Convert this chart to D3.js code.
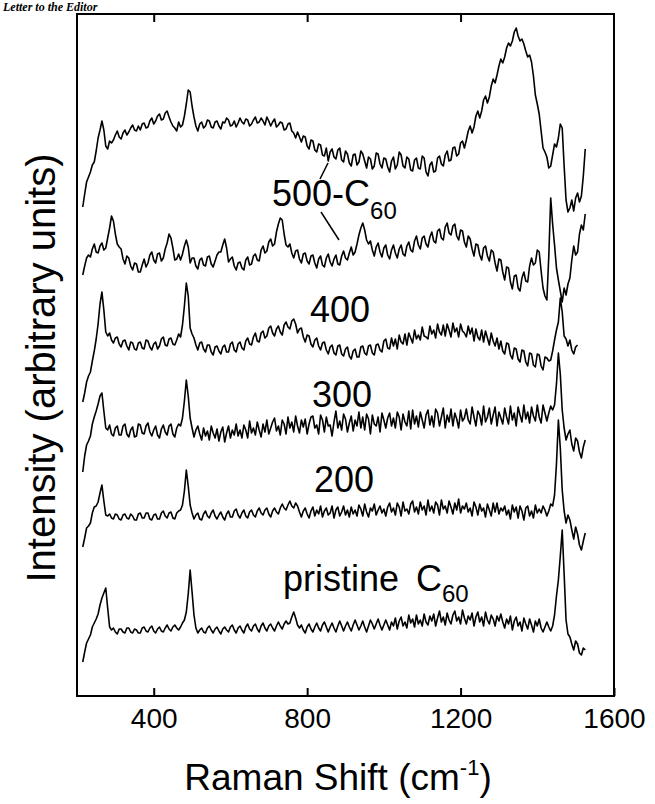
<!DOCTYPE html>
<html>
<head>
<meta charset="utf-8">
<script src="https://cdn.jsdelivr.net/npm/d3@7"></script>
<style>
  html, body { margin: 0; padding: 0; background: #fff; }
  svg { display: block; }
</style>
</head>
<body>
<svg id="chart" width="655" height="804"></svg>
<script>
// Raman shift grid (cm^-1)
const shift = [
  215,220,225,230,235,240,245,250,255,260,265,270,275,280,285,290,295,300,305,310,
  315,320,325,330,335,340,345,350,355,360,365,370,375,380,385,390,395,400,405,410,
  415,420,425,430,435,440,445,450,455,460,465,470,475,480,485,490,495,500,505,510,
  515,520,525,530,535,540,545,550,555,560,565,570,575,580,585,590,595,600,605,610,
  615,620,625,630,635,640,645,650,655,660,665,670,675,680,685,690,695,700,705,710,
  715,720,725,730,735,740,745,750,755,760,765,770,775,780,785,790,795,800,805,810,
  815,820,825,830,835,840,845,850,855,860,865,870,875,880,885,890,895,900,905,910,
  915,920,925,930,935,940,945,950,955,960,965,970,975,980,985,990,995,1000,1005,1010,
  1015,1020,1025,1030,1035,1040,1045,1050,1055,1060,1065,1070,1075,1080,1085,1090,1095,1100,1105,1110,
  1115,1120,1125,1130,1135,1140,1145,1150,1155,1160,1165,1170,1175,1180,1185,1190,1195,1200,1205,1210,
  1215,1220,1225,1230,1235,1240,1245,1250,1255,1260,1265,1270,1275,1280,1285,1290,1295,1300,1305,1310,
  1315,1320,1325,1330,1335,1340,1345,1350,1355,1360,1365,1370,1375,1380,1385,1390,1395,1400,1405,1410,
  1415,1420,1425,1430,1435,1440,1445,1450,1455,1460,1465,1470,1475,1480,1485,1490,1495,1500,1505,1510,
  1515,1520,1525
];

// Intensities (arbitrary units, traces offset as plotted)
const trace500a = [
  489,502,514,519,524,531,534,545,558,566,575,566,550,547,555,553,556,561,565,559,
  557,563,566,561,564,568,571,566,565,570,566,572,573,568,569,575,578,572,575,580,
  582,576,577,583,585,579,574,570,568,565,574,569,571,580,592,606,604,590,579,570,
  565,572,574,568,570,576,575,569,568,574,575,570,567,574,573,578,576,570,571,575,
  569,573,578,574,572,577,576,570,572,576,579,573,574,578,575,571,579,575,570,574,
  577,569,571,574,573,566,567,572,573,565,563,558,564,559,554,560,559,550,547,556,
  555,546,544,552,551,541,540,548,535,544,547,539,537,546,548,536,534,545,542,533,
  530,541,542,531,534,545,542,535,528,539,537,527,530,543,542,532,528,538,537,529,
  524,535,539,527,531,544,541,530,528,539,537,526,525,536,538,528,527,540,538,524,
  520,531,534,524,525,538,540,532,530,541,545,535,536,548,549,540,542,553,555,548,
  556,565,570,563,569,580,585,578,585,596,600,593,599,610,617,613,621,630,637,633,
  639,648,653,650,655,664,668,660,655,657,652,645,639,641,634,620,601,592,582,565,
  548,544,539,528,530,541,552,549,558,572,568,530,496,484,488,496,485,498,503,494,
  500,520,547
];
const trace500b = [
  421,430,438,441,439,447,452,444,443,450,453,446,448,458,468,480,475,462,452,449,
  447,437,432,440,438,430,426,433,432,424,424,431,437,429,433,441,444,436,433,442,
  443,435,438,447,453,462,458,448,436,437,442,436,442,450,456,449,433,438,438,430,
  427,436,438,431,430,439,440,432,429,435,441,444,444,451,457,448,434,437,439,430,
  426,433,434,428,426,436,439,431,432,440,442,436,435,446,450,443,445,454,457,450,
  452,464,472,478,476,462,451,449,452,443,438,445,446,437,433,442,443,435,432,440,
  441,433,428,437,440,431,429,438,442,434,430,437,441,432,431,440,445,438,436,443,
  449,441,444,452,461,468,473,466,456,452,455,446,440,449,453,444,439,448,451,441,
  437,446,451,443,438,447,451,442,440,450,454,446,444,455,460,451,447,458,460,452,
  449,459,464,455,453,465,467,458,456,469,473,463,461,470,472,460,456,466,465,454,
  449,460,457,447,440,452,451,441,436,448,450,440,435,446,444,433,425,437,436,424,
  416,429,428,414,407,420,421,408,405,418,424,415,414,430,438,431,433,446,444,425,
  408,400,396,440,498,472,451,428,416,405,394,408,401,412,418,436,450,441,444,462,
  471,466,482
];
const trace400 = [
  294,303,314,320,324,335,345,357,372,392,404,386,364,360,363,356,353,358,359,352,
  349,355,356,350,346,354,353,347,346,353,354,348,347,356,355,349,346,352,354,347,
  350,357,359,351,350,357,358,352,351,356,362,359,371,390,413,400,368,362,358,351,
  346,353,354,347,344,351,351,344,341,349,350,345,342,349,351,344,344,352,354,346,
  344,352,354,348,346,355,358,352,351,359,363,355,354,363,365,358,360,368,370,363,
  360,367,370,364,361,371,374,369,367,375,377,372,363,367,368,359,354,361,360,352,
  349,356,358,350,346,353,354,346,342,349,351,343,341,350,351,342,340,347,349,340,
  337,345,347,339,339,349,350,343,341,350,351,343,341,351,352,346,344,355,357,348,
  347,358,350,357,347,361,354,352,362,351,363,358,353,366,357,361,356,369,360,359,
  357,370,362,366,358,372,364,361,371,360,372,366,359,373,364,368,359,372,365,363,
  359,370,362,368,355,367,359,356,366,354,365,358,351,363,355,350,358,347,355,345,
  342,353,352,341,337,348,347,337,334,346,345,334,330,343,342,331,329,342,341,330,
  326,339,338,335,336,345,356,366,374,398,384,360,357,350,356,346,342,349,351
];
const trace300 = [
  224,240,251,255,260,272,279,285,292,300,303,285,268,266,271,262,260,268,270,261,
  261,270,272,262,259,266,269,259,260,272,271,263,262,270,273,264,260,266,270,261,
  258,267,271,264,261,270,272,262,259,268,272,270,278,295,316,300,278,268,259,266,
  270,262,256,268,260,265,256,270,263,258,267,255,264,269,254,263,270,258,266,261,
  272,260,266,258,271,266,258,275,263,268,261,274,266,259,272,264,276,262,268,274,
  278,265,270,261,276,272,262,279,268,274,264,280,270,263,276,269,277,262,272,279,
  280,268,271,262,281,276,264,279,270,271,260,274,285,268,275,266,282,277,264,273,
  280,265,276,270,284,268,279,266,282,277,262,281,272,270,279,264,283,276,268,278,
  283,270,278,268,284,279,266,282,274,270,285,267,286,272,280,269,284,276,268,281,
  286,271,280,269,287,283,270,279,288,268,281,274,287,270,283,277,268,286,275,278,
  287,276,272,289,279,270,285,281,271,290,274,279,288,272,281,289,270,284,278,272,
  288,279,272,290,276,283,270,289,281,274,291,277,284,273,289,280,275,291,279,273,
  291,283,275,283,290,286,291,312,343,322,286,268,256,262,266,252,245,258,255,244,
  238,249,256
];
const trace200 = [
  149,158,168,170,173,183,189,190,194,203,211,195,181,180,182,178,177,182,181,177,
  176,181,182,178,177,182,180,176,176,182,183,178,178,183,183,177,176,181,182,177,
  177,183,185,180,178,183,184,178,177,183,185,186,191,205,226,210,191,183,177,181,
  183,177,176,182,185,180,178,183,186,180,177,181,184,179,176,182,185,179,179,185,
  187,181,178,183,186,180,178,184,186,181,179,185,188,183,181,186,188,182,179,185,
  188,184,182,188,192,188,186,191,195,190,188,193,190,184,179,185,188,182,178,185,
  189,180,186,182,190,179,185,188,181,183,190,178,186,189,180,184,190,181,186,179,
  189,182,186,180,191,187,180,192,184,179,188,185,192,181,186,190,183,187,180,189,
  193,184,188,181,193,189,180,194,185,187,182,192,195,184,189,182,194,186,190,181,
  196,185,190,183,194,191,181,196,187,190,183,195,189,182,193,186,197,183,190,187,
  193,184,188,180,194,189,181,192,185,188,179,192,186,180,193,184,193,182,188,185,
  190,181,186,177,191,184,189,178,190,185,176,188,190,180,185,178,191,183,187,183,
  190,186,180,185,192,190,201,232,276,248,206,185,173,181,176,166,157,169,162,151,
  146,155,163
];
const tracePristine = [
  34,44,53,57,61,69,73,77,82,91,98,103,108,88,69,66,68,64,62,67,
  67,64,63,68,68,64,63,67,66,63,63,68,69,65,64,68,70,65,63,67,
  69,65,64,68,71,67,65,69,71,68,66,69,73,76,84,102,126,104,81,68,
  63,66,68,64,63,68,70,66,63,67,69,65,62,67,69,66,64,69,71,66,
  63,68,70,66,63,69,72,67,65,70,72,67,64,70,73,68,65,70,72,68,
  65,70,74,70,67,72,75,72,73,79,84,78,71,68,71,66,63,69,72,67,
  64,69,73,68,65,71,74,69,64,69,73,68,64,70,75,70,65,70,74,69,
  65,71,76,71,66,70,75,69,64,70,76,72,67,72,77,71,66,71,76,71,
  66,74,70,78,67,75,79,70,74,68,81,73,77,69,81,72,76,70,82,74,
  71,80,75,82,70,78,85,74,79,71,83,76,72,81,85,75,79,72,86,78,
  72,80,76,83,70,79,84,74,79,70,84,76,72,81,77,70,80,75,82,74,
  68,77,72,80,66,75,79,70,74,65,78,72,67,77,71,64,75,70,77,68,
  64,69,74,69,65,70,81,100,116,140,166,122,76,62,59,52,46,55,52,43,
  41,48,46
];

const xTickValues = [400, 800, 1200, 1600];
const topTickValues = [400, 800, 1200];
const seriesList = [trace500a, trace500b, trace400, trace300, trace200, tracePristine];

const svg = d3.select("#chart");
const mLeft = 77, mRight = 614, mTop = 14, mBottom = 696;

const x = d3.scaleLinear().domain([200, 1600]).range([mLeft, mRight]);
const y = d3.scaleLinear().domain([0, 682]).range([mBottom, mTop]);

// header fragment
svg.append("text")
  .attr("x", 3).attr("y", 11)
  .attr("font-family", "Liberation Serif, serif")
  .attr("font-style", "italic").attr("font-weight", "bold")
  .attr("font-size", 12)
  .text("Letter to the Editor");

// traces
const line = d3.line()
  .x((d, i) => x(shift[i]))
  .y(d => y(d));

svg.append("g")
  .selectAll("path")
  .data(seriesList)
  .join("path")
  .attr("d", d => line(d))
  .attr("fill", "none")
  .attr("stroke", "#000")
  .attr("stroke-width", 1.6)
  .attr("stroke-linejoin", "round");

// frame
svg.append("rect")
  .attr("x", mLeft).attr("y", mTop)
  .attr("width", mRight - mLeft).attr("height", mBottom - mTop)
  .attr("fill", "none").attr("stroke", "#000").attr("stroke-width", 2);

// axes
const font = "Liberation Sans, Arial, sans-serif";
const gb = svg.append("g")
  .attr("transform", `translate(0,${mBottom})`)
  .call(d3.axisBottom(x).tickValues(xTickValues).tickFormat(d3.format("d"))
    .tickSizeInner(-8).tickSizeOuter(0).tickPadding(12));
gb.select(".domain").remove();
gb.selectAll("line").attr("stroke-width", 2);
gb.selectAll("text")
  .attr("font-family", font)
  .attr("font-size", 28).attr("fill", "#000");

const gt = svg.append("g")
  .attr("transform", `translate(0,${mTop})`)
  .call(d3.axisTop(x).tickValues(topTickValues).tickSizeInner(-8).tickSizeOuter(0).tickFormat(""));
gt.select(".domain").remove();
gt.selectAll("line").attr("stroke-width", 2);

// axis titles
const xt = svg.append("text")
  .attr("x", 338).attr("y", 790)
  .attr("text-anchor", "middle")
  .attr("font-family", font)
  .attr("font-size", 37);
xt.append("tspan").text("Raman Shift (cm");
xt.append("tspan").attr("font-size", 22).attr("dy", -15).text("-1");
xt.append("tspan").attr("dy", 15).text(")");

svg.append("text")
  .attr("transform", "translate(55,368) rotate(-90)")
  .attr("text-anchor", "middle")
  .attr("font-family", font)
  .attr("font-size", 40)
  .text("Intensity (arbitrary units)");

// curve labels
const l500 = svg.append("text").attr("x", 272).attr("y", 206)
  .attr("font-family", font).attr("font-size", 36);
l500.append("tspan").text("500-C");
l500.append("tspan").attr("font-size", 24).attr("dy", 13).text("60");

[["400", 340, 322], ["300", 342, 407], ["200", 344, 492]].forEach(([t, cx, cy]) => {
  svg.append("text").attr("x", cx).attr("y", cy)
    .attr("text-anchor", "middle")
    .attr("font-family", font).attr("font-size", 36).text(t);
});

const lp = svg.append("text").attr("x", 283).attr("y", 591)
  .attr("font-family", font).attr("font-size", 36);
lp.append("tspan").text("pristine");
lp.append("tspan").attr("x", 416).text("C");
lp.append("tspan").attr("font-size", 24).attr("dy", 11).text("60");

// leader lines for 500-C60
svg.append("line").attr("x1", 320).attr("y1", 179).attr("x2", 328).attr("y2", 163)
  .attr("stroke", "#000").attr("stroke-width", 1.5);
svg.append("line").attr("x1", 321).attr("y1", 212).attr("x2", 339).attr("y2", 240)
  .attr("stroke", "#000").attr("stroke-width", 1.5);
</script>
</body>
</html>
